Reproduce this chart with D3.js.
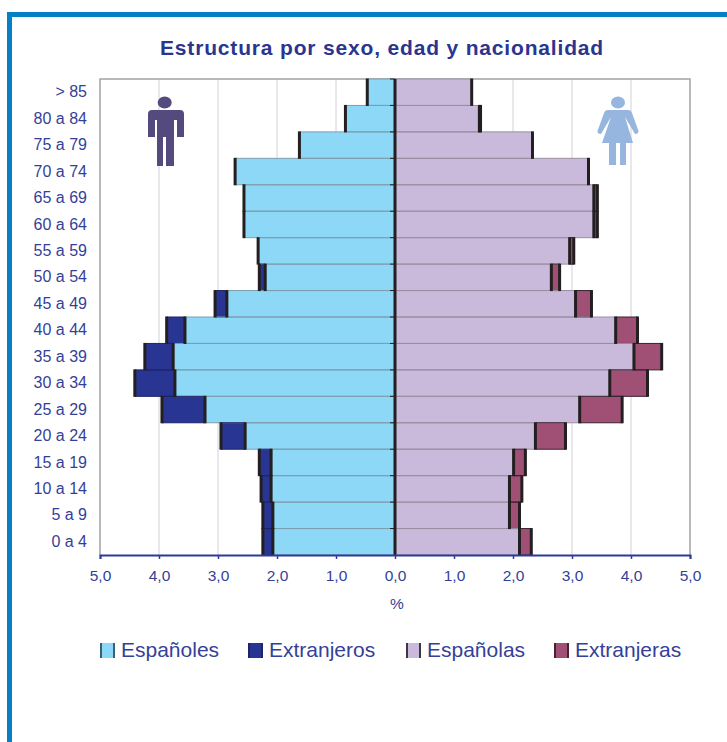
<!DOCTYPE html>
<html>
<head>
<meta charset="utf-8">
<script src="https://cdn.jsdelivr.net/npm/d3@7"></script>
<style>
  html, body { margin: 0; padding: 0; background: #fff; }
  svg { display: block; }
  text { font-family: "Liberation Sans", Arial, sans-serif; fill: #353f98; }
</style>
</head>
<body>
<script>
// grupos de edad, de arriba a abajo
const ages = [">85", "80 a 84", "75 a 79", "70 a 74", "65 a 69", "60 a 64", "55 a 59", "50 a 54", "45 a 49",
              "40 a 44", "35 a 39", "30 a 34", "25 a 29", "20 a 24", "15 a 19", "10 a 14", "5 a 9", "0 a 4"];
const ageLabels = ["> 85", "80 a 84", "75 a 79", "70 a 74", "65 a 69", "60 a 64", "55 a 59", "50 a 54", "45 a 49",
              "40 a 44", "35 a 39", "30 a 34", "25 a 29", "20 a 24", "15 a 19", "10 a 14", "5 a 9", "0 a 4"];

const espanoles  = [0.47, 0.84, 1.62, 2.71, 2.56, 2.56, 2.32, 2.20, 2.85, 3.56, 3.76, 3.73, 3.22, 2.54, 2.10, 2.10, 2.07, 2.07];
const extranjeros = [0.00, 0.00, 0.00, 0.00, 0.00, 0.00, 0.00, 0.10, 0.20, 0.31, 0.48, 0.68, 0.73, 0.41, 0.20, 0.17, 0.17, 0.17];
const espanolas  = [1.30, 1.43, 2.33, 3.28, 3.37, 3.37, 2.96, 2.65, 3.06, 3.74, 4.05, 3.64, 3.13, 2.38, 2.01, 1.94, 1.94, 2.11];
const extranjeras = [0.00, 0.02, 0.00, 0.00, 0.06, 0.06, 0.07, 0.14, 0.27, 0.37, 0.47, 0.64, 0.72, 0.51, 0.20, 0.21, 0.17, 0.20];

const xTicks = [-5, -4, -3, -2, -1, 0, 1, 2, 3, 4, 5];
const legendNames = ["Españoles", "Extranjeros", "Españolas", "Extranjeras"];
const legendColors = ["#8dd7f7", "#283593", "#c9b9db", "#a05075"];
const legendEdges = ["#3b6070", "#1f2466", "#3f3545", "#4a2035"];
const legendX = [100, 248, 406, 554];

const svg = d3.select("body").append("svg").attr("width", 727).attr("height", 742);

appendFrame();
appendTitle();

const x = d3.scaleLinear().domain([-5, 5]).range([100, 690]);
const y = d3.scaleBand().domain(ages).range([79, 555]);

appendGrid();
appendBars();
appendAxes();
appendIcons();
appendLegend();

function appendFrame() {
  svg.append("rect").attr("x", 7).attr("y", 12).attr("width", 720).attr("height", 5).attr("fill", "#0580c4");
  svg.append("rect").attr("x", 7).attr("y", 12).attr("width", 5).attr("height", 730).attr("fill", "#0580c4");
}

function appendTitle() {
  svg.append("text")
    .attr("x", 382).attr("y", 55)
    .attr("text-anchor", "middle")
    .style("font-size", "21px")
    .style("font-weight", "bold")
    .style("letter-spacing", "0.83px")
    .style("fill", "#2b3590")
    .text("Estructura por sexo, edad y nacionalidad");
}

function appendGrid() {
  svg.append("g").selectAll("line")
    .data(xTicks.filter(d => Math.abs(d) < 5 && d !== 0))
    .join("line")
    .attr("x1", d => x(d)).attr("x2", d => x(d))
    .attr("y1", 79).attr("y2", 555)
    .attr("stroke", "#d2d2d6");
  // marco gris del area de trazado
  svg.append("path")
    .attr("d", `M${x(-5)},555V${y.range()[0]}H${x(5)}V555`)
    .attr("fill", "none")
    .attr("stroke", "#a3a3a6")
    .attr("stroke-width", 1.5);
}

function appendBars() {
  // tramos con signo: negativo a la izquierda, positivo a la derecha
  const segments = [];
  ages.forEach((age, i) => {
    segments.push({age, a: 0, b: -espanoles[i], fill: legendColors[0], line: "#7c9fb0"});
    segments.push({age, a: -espanoles[i], b: -(espanoles[i] + extranjeros[i]), fill: legendColors[1], line: "#1f2466"});
    segments.push({age, a: 0, b: espanolas[i], fill: legendColors[2], line: "#9b8ea3"});
    segments.push({age, a: espanolas[i], b: espanolas[i] + extranjeras[i], fill: legendColors[3], line: "#3a2230"});
  });
  const drawn = segments.filter(d => d.a !== d.b);

  const g = svg.append("g");
  g.selectAll("rect.seg")
    .data(drawn)
    .join("rect")
    .attr("class", "seg")
    .attr("x", d => Math.min(x(d.a), x(d.b)))
    .attr("width", d => Math.abs(x(d.a) - x(d.b)))
    .attr("y", d => y(d.age))
    .attr("height", y.bandwidth())
    .attr("fill", d => d.fill);

  // lineas finas arriba y abajo de cada tramo
  g.selectAll("path.hline")
    .data(drawn)
    .join("path")
    .attr("class", "hline")
    .attr("d", d => `M${x(d.a)},${y(d.age)}H${x(d.b)}M${x(d.a)},${y(d.age) + y.bandwidth()}H${x(d.b)}`)
    .attr("fill", "none")
    .attr("stroke", d => d.line)
    .attr("stroke-width", 1);

  // borde vertical grueso al final de cada tramo
  g.selectAll("line.edge")
    .data(drawn)
    .join("line")
    .attr("class", "edge")
    .attr("x1", d => x(d.b)).attr("x2", d => x(d.b))
    .attr("y1", d => y(d.age) - 0.5)
    .attr("y2", d => y(d.age) + y.bandwidth() + 0.5)
    .attr("stroke", "#231f20")
    .attr("stroke-width", 3);

  // eje central
  g.append("line")
    .attr("x1", x(0)).attr("x2", x(0))
    .attr("y1", 79).attr("y2", 555)
    .attr("stroke", "#231f20")
    .attr("stroke-width", 3);
  g.selectAll("line.center")
    .data(ages)
    .join("line")
    .attr("class", "center")
    .attr("x1", x(0) - 5).attr("x2", x(0))
    .attr("y1", d => y(d)).attr("y2", d => y(d))
    .attr("stroke", "#231f20");
}

function appendAxes() {
  const xAxis = svg.append("g")
    .attr("transform", "translate(0,555)")
    .call(d3.axisBottom(x)
      .tickValues(xTicks)
      .tickSize(4)
      .tickPadding(11)
      .tickFormat(d => d3.format(".1f")(Math.abs(d)).replace(".", ",")));
  xAxis.select(".domain").attr("stroke", "#2f3a96").attr("stroke-width", 2);
  xAxis.selectAll(".tick line").attr("stroke", "#2f3a96").attr("stroke-width", 1.5);
  xAxis.selectAll("text").style("font-size", "15.5px").style("fill", "#353f98");

  const yAxis = svg.append("g")
    .attr("transform", "translate(100,0)")
    .call(d3.axisLeft(y).tickSize(0).tickPadding(13).tickFormat((d, i) => ageLabels[i]));
  yAxis.select(".domain").remove();
  yAxis.selectAll("text").style("font-size", "16px").style("fill", "#353f98");

  svg.append("text")
    .attr("x", 397).attr("y", 609)
    .attr("text-anchor", "middle")
    .style("font-size", "15.5px")
    .text("%");
}

function appendIcons() {
  // hombre
  const man = svg.append("g").attr("fill", "#544a7d");
  man.append("ellipse").attr("cx", 164.7).attr("cy", 102.5).attr("rx", 7).attr("ry", 6);
  man.append("path").attr("d", "M148,114Q148,110 152,110H180Q184,110 184,114V137H177V120H174V166H166V137H163V166H157V120H155V137H148Z");
  // mujer
  const woman = svg.append("g").attr("fill", "#96b6e0");
  woman.append("ellipse").attr("cx", 618).attr("cy", 102.5).attr("rx", 7).attr("ry", 6);
  woman.append("path").attr("d", "M608,110H628Q631,110 632,113L638.5,131Q638.5,134 635,134L625,117L633,143H626V165H620V143H616V165H609V143H602L611,117L601,134Q597,134 597.5,131L604,113Q605,110 608,110Z");
}

function appendLegend() {
  const item = svg.append("g").selectAll("g")
    .data(legendNames)
    .join("g")
    .attr("transform", (d, i) => `translate(${legendX[i]},0)`);
  item.append("rect")
    .attr("x", 0).attr("y", 643)
    .attr("width", 15).attr("height", 15)
    .attr("fill", (d, i) => legendColors[i]);
  item.append("path")
    .attr("d", "M1,643V658M14,643V658")
    .attr("stroke", (d, i) => legendEdges[i])
    .attr("stroke-width", 2);
  item.append("text")
    .attr("x", (d, i) => 21)
    .attr("y", 657)
    .style("font-size", "21px")
    .text(d => d);
}
</script>
</body>
</html>
